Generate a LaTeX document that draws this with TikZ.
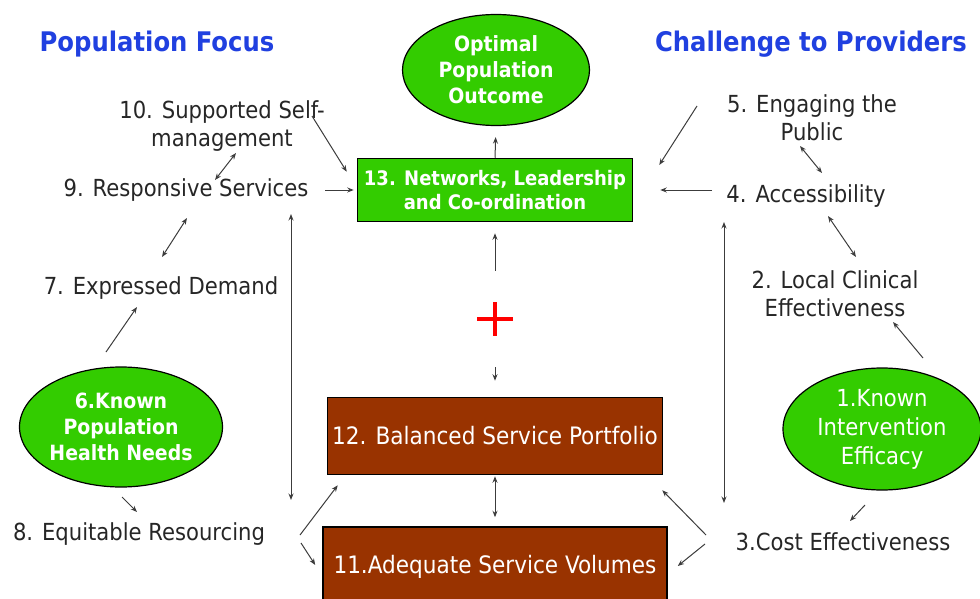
\documentclass[tikz,border=0pt]{standalone}
\usepackage{fontspec}
\setmainfont{DejaVu Sans Condensed}
\usetikzlibrary{arrows.meta,shapes.geometric}

\definecolor{goalgreen}{RGB}{51,204,0}
\definecolor{portbrown}{RGB}{153,51,0}
\definecolor{headblue}{RGB}{32,64,224}
\definecolor{linkgrey}{RGB}{60,60,60}

\begin{document}
\begin{tikzpicture}[x=1pt, y=-1pt, >={Stealth[length=6.5pt,width=5pt]},
  head/.style={font=\fontsize{27}{30}\selectfont\bfseries, text=headblue, inner sep=0pt},
  factor/.style={font=\fontsize{23.5}{28}\selectfont, align=center, inner sep=0pt, text=black!85},
  goal/.style={ellipse, draw=black, line width=1.2, fill=goalgreen, text=white,
    align=center, inner sep=0pt, font=\fontsize{21}{26}\selectfont\bfseries},
  greenbox/.style={draw=black, line width=1.5, fill=goalgreen, text=white,
    align=center, font=\fontsize{20}{24}\selectfont\bfseries},
  brownbox/.style={draw=black, line width=1.5, fill=portbrown, text=white,
    font=\fontsize{24}{26}\selectfont},
  plusmark/.style={minimum width=36, minimum height=96, inner sep=0pt,
    path picture={
      \draw[red, line width=4] (path picture bounding box.center) +(-18,0) -- +(18,0);
      \draw[red, line width=4] (path picture bounding box.center) +(0,-17) -- +(0,17);}},
  link/.style={->, draw=linkgrey, line width=1},
  both/.style={<->, draw=linkgrey, line width=1}
]
\useasboundingbox (0,0) rectangle (980,599);

% headings
\node[head] (hpop) at (157,44) {Population Focus};
\node[head] (hprov) at (811,44) {Challenge to Providers};

% central column
\node[goal, minimum width=187, minimum height=111] (outc) at (496,70) {Optimal\\Population\\Outcome};
\node[greenbox, minimum width=275, minimum height=63] (n13) at (495,190) {13. Networks, Leadership\\and Co-ordination};
\node[plusmark] (plus) at (495,319) {};
\node[brownbox, minimum width=335, minimum height=77] (n12) at (495,436) {12. Balanced Service Portfolio};
\node[brownbox, minimum width=344, minimum height=80] (n11) at (495,567) {11.Adequate Service Volumes};

% population side
\node[factor] (n10) at (222,126) {10. Supported Self-\\management};
\node[factor] (n9) at (186,190) {9. Responsive Services};
\node[factor] (n7) at (161,288) {7. Expressed Demand};
\node[goal, minimum width=203, minimum height=120] (n6) at (121,427) {6.Known\\Population\\Health Needs};
\node[factor] (n8) at (139,534) {8. Equitable Resourcing};

% provider side
\node[factor] (n5) at (812,118) {5. Engaging the\\Public};
\node[factor] (n4) at (806,196) {4. Accessibility};
\node[factor] (n2) at (835,294) {2. Local Clinical\\Effectiveness};
\node[goal, minimum width=198, minimum height=122, font=\fontsize{23.5}{29}\selectfont] (n1) at (882,429) {1.Known\\Intervention\\Efficacy};
\node[factor] (n3) at (843,542) {3.Cost Effectiveness};

% centre links
\draw[link, shorten >=11] (n13.north) -- (outc.south);
\draw[link, shorten >=11] (plus.north) -- (n13.south);
\draw[link, shorten >=16] (plus.south) -- (n12.north);
\draw[both, shorten <=1, shorten >=9] (n12.south) -- (n11.north);

% left links
\draw[link] ([shift={(90,-10)}]n10.center) -- ([shift={(-10,14)}]n13.north west);
\draw[both] ([shift={(14,27)}]n10.center) -- ([shift={(29,-10)}]n9.center);
\draw[link] ([xshift=139]n9.center) -- ([xshift=-3]n13.west);
\draw[both] ([shift={(1,28)}]n9.center) -- ([shift={(1,-31)}]n7.center);
\draw[link] ([shift={(-15,-75)}]n6.center) -- ([shift={(-24,19)}]n7.center);
\draw[link] ([shift={(1,70)}]n6.center) -- ([shift={(-2,-22)}]n8.center);
\draw[link] ([shift={(161,1)}]n8.center) -- ([shift={(11,10)}]n12.south west);
\draw[link] ([shift={(162,9)}]n8.center) -- ([shift={(-7,-2)}]n11.west);
\draw[both] ([shift={(105,24)}]n9.center) -- ([shift={(152,-34)}]n8.center);

% right links
\draw[link] ([shift={(-115,-12)}]n5.center) -- ([shift={(26,-25)}]n13.east);
\draw[link] ([shift={(-94,-6)}]n4.center) -- ([xshift=27]n13.east);
\draw[both] ([shift={(-12,28)}]n5.center) -- ([shift={(16,-23)}]n4.center);
\draw[both] ([shift={(22,20)}]n4.center) -- ([shift={(21,-37)}]n2.center);
\draw[link] ([shift={(41,-71)}]n1.center) -- ([shift={(58,28)}]n2.center);
\draw[link] ([shift={(-17,76)}]n1.center) -- ([shift={(7,-21)}]n3.center);
\draw[link] ([shift={(-137,-7)}]n3.center) -- ([shift={(-1,15)}]n12.south east);
\draw[link] ([shift={(-138,2)}]n3.center) -- ([shift={(10,-1)}]n11.east);
\draw[both] ([shift={(-82,26)}]n4.center) -- ([shift={(-119,-39)}]n3.center);
\end{tikzpicture}
\end{document}
